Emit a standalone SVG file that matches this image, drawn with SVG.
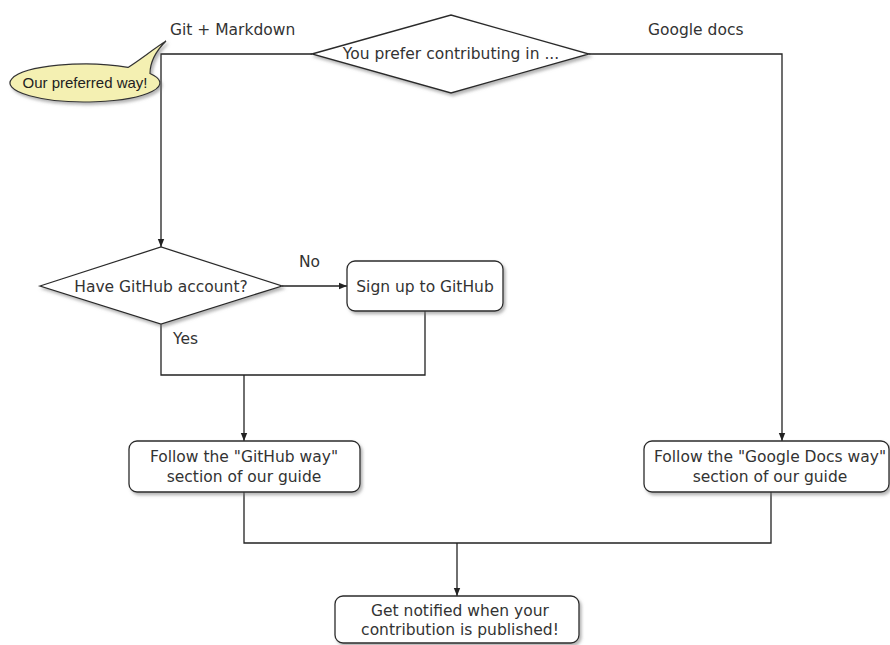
<svg xmlns="http://www.w3.org/2000/svg" width="890" height="645" viewBox="0 0 890 645">
<style>
.shape{fill:#fff;stroke:#2a2a2a;stroke-width:1.3;filter:url(#sh)}
.t{font-family:"DejaVu Sans",Verdana,sans-serif;font-size:15.5px;fill:#333}
.c{text-anchor:middle}
.ln{fill:none;stroke:#222;stroke-width:1.3}
.arr{fill:none;stroke:#222;stroke-width:1.3;marker-end:url(#ah)}
</style>
<defs>
<filter id="sh" x="-10%" y="-20%" width="130%" height="150%">
<feDropShadow dx="2" dy="2.5" stdDeviation="1.5" flood-color="#777" flood-opacity="0.55"/>
</filter>
<marker id="ah" viewBox="0 0 10 10" refX="10" refY="5" markerWidth="8" markerHeight="8" markerUnits="userSpaceOnUse" orient="auto">
<path d="M0,1 L10,5 L0,9 Z" fill="#222"/>
</marker>
</defs>
<g id="connectors">
<path class="arr" d="M312,54 H161 V247"/>
<path class="arr" d="M589,54 H782 V441"/>
<path class="arr" d="M282,286 H347"/>
<path class="ln" d="M161,324 V375 H425 V311"/>
<path class="arr" d="M244,375 V441"/>
<path class="ln" d="M244,492 V543 H771 V492"/>
<path class="arr" d="M457,543 V596"/>
<text class="t" x="170" y="35">Git + Markdown</text>
<text class="t" x="648" y="35">Google docs</text>
<text class="t" x="299" y="267">No</text>
<text class="t" x="173" y="344">Yes</text>
</g>
<g id="bubble">
<path d="M128,67.4 C140,60 152,50 166,41 C157,50 150,60 150,73.5 A75 19 0 1 1 128,67.4 Z" fill="#f4f0b2" stroke="#333" stroke-width="1.2" filter="url(#sh)"/>
<text x="85" y="88" text-anchor="middle" font-family="'Liberation Sans',Arial,sans-serif" font-size="15" fill="#222">Our preferred way!</text>
</g>
<g id="prefer">
<polygon class="shape" points="312,54 451,15 589,54 451,93"/>
<text class="t c" x="451" y="59">You prefer contributing in ...</text>
</g>
<g id="account">
<polygon class="shape" points="40,286 161,247 282,286 161,324"/>
<text class="t c" x="161" y="292">Have GitHub account?</text>
</g>
<g id="signup">
<rect class="shape" x="347" y="261" width="156" height="50" rx="8"/>
<text class="t c" x="425" y="292">Sign up to GitHub</text>
</g>
<g id="githubway">
<rect class="shape" x="129" y="441" width="231" height="51" rx="8"/>
<text class="t c" x="244" y="462">Follow the "GitHub way"</text>
<text class="t c" x="244" y="482">section of our guide</text>
</g>
<g id="googleway">
<rect class="shape" x="644" y="441" width="245" height="51" rx="8"/>
<text class="t c" x="770" y="462">Follow the "Google Docs way"</text>
<text class="t c" x="770" y="482">section of our guide</text>
</g>
<g id="notified">
<rect class="shape" x="335" y="596" width="244" height="47" rx="8"/>
<text class="t c" x="460" y="616">Get notified when your</text>
<text class="t c" x="460" y="635">contribution is published!</text>
</g>
</svg>
